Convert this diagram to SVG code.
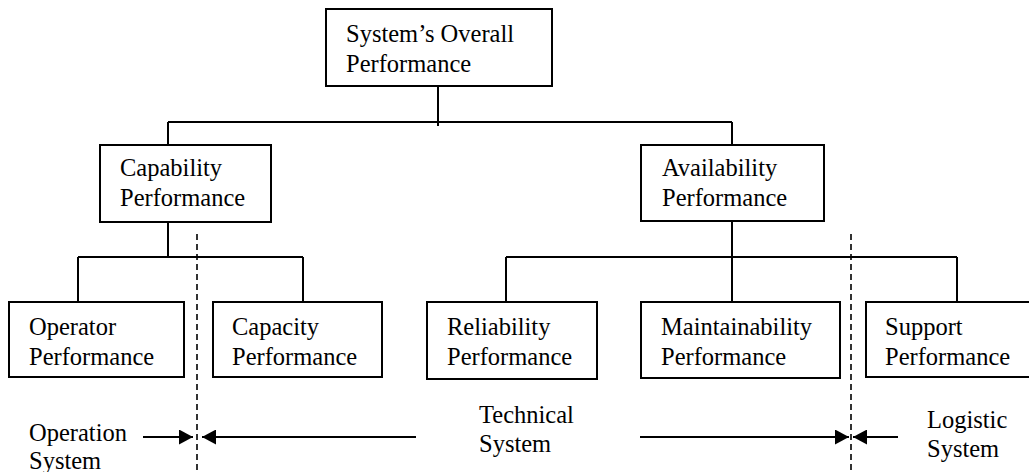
<svg xmlns="http://www.w3.org/2000/svg" width="1029" height="472" viewBox="0 0 1029 472">
<style>
.box{fill:#fff;stroke:#000;stroke-width:2}
.ln{fill:none;stroke:#000;stroke-width:2}
.dash{fill:none;stroke:#000;stroke-width:1.6;stroke-dasharray:6 4}
.t{font-family:'Liberation Serif','DejaVu Serif',serif;font-size:24.5px;fill:#000}
</style>
<defs>
<marker id="ah" viewBox="0 0 14 15" refX="14" refY="7.5" markerWidth="14" markerHeight="15" markerUnits="userSpaceOnUse" orient="auto">
<path d="M0,0 L14,7.5 L0,15 Z" fill="#000"/>
</marker>
</defs>
<g id="connectors">
<path class="ln" d="M438,86 V126"/>
<path class="ln" d="M168,122 H732"/>
<path class="ln" d="M168,122 V145 M732,122 V145"/>
<path class="ln" d="M168,222 V257 M78,257 H303 M78,257 V302 M303,257 V302"/>
<path class="ln" d="M732,221 V302 M506,257 H957 M506,257 V302 M957,257 V302"/>
<path class="dash" d="M197,234 V472"/>
<path class="dash" d="M851,234 V472"/>
<path class="ln" d="M143,437 H193" marker-end="url(#ah)"/>
<path class="ln" d="M416,437 H202" marker-end="url(#ah)"/>
<path class="ln" d="M640,437 H849" marker-end="url(#ah)"/>
<path class="ln" d="M898,437 H853" marker-end="url(#ah)"/>
</g>
<g class="t" font-family="Liberation Serif, serif">
<g id="n-overall">
<rect class="box" x="326" y="9" width="226" height="77"/>
<text x="346" y="42">System’s Overall</text>
<text x="346" y="72">Performance</text>
</g>
<g id="n-capability">
<rect class="box" x="100" y="145" width="171" height="77"/>
<text x="120" y="176">Capability</text>
<text x="120" y="206">Performance</text>
</g>
<g id="n-availability">
<rect class="box" x="641" y="145" width="183" height="76"/>
<text x="662" y="176">Availability</text>
<text x="662" y="206">Performance</text>
</g>
<g id="n-operator">
<rect class="box" x="9" y="302" width="175" height="75"/>
<text x="29" y="335">Operator</text>
<text x="29" y="365">Performance</text>
</g>
<g id="n-capacity">
<rect class="box" x="213" y="302" width="169" height="75"/>
<text x="232" y="335">Capacity</text>
<text x="232" y="365">Performance</text>
</g>
<g id="n-reliability">
<rect class="box" x="427" y="302" width="170" height="77"/>
<text x="447" y="335">Reliability</text>
<text x="447" y="365">Performance</text>
</g>
<g id="n-maintainability">
<rect class="box" x="641" y="302" width="199" height="76"/>
<text x="661" y="335">Maintainability</text>
<text x="661" y="365">Performance</text>
</g>
<g id="n-support">
<rect class="box" x="866" y="302" width="175" height="75"/>
<text x="885" y="335">Support</text>
<text x="885" y="365">Performance</text>
</g>
<g id="labels">
<text x="29" y="441">Operation</text>
<text x="29" y="469">System</text>
<text x="479" y="423">Technical</text>
<text x="479" y="452">System</text>
<text x="927" y="428">Logistic</text>
<text x="927" y="457">System</text>
</g>
</g>
</svg>
